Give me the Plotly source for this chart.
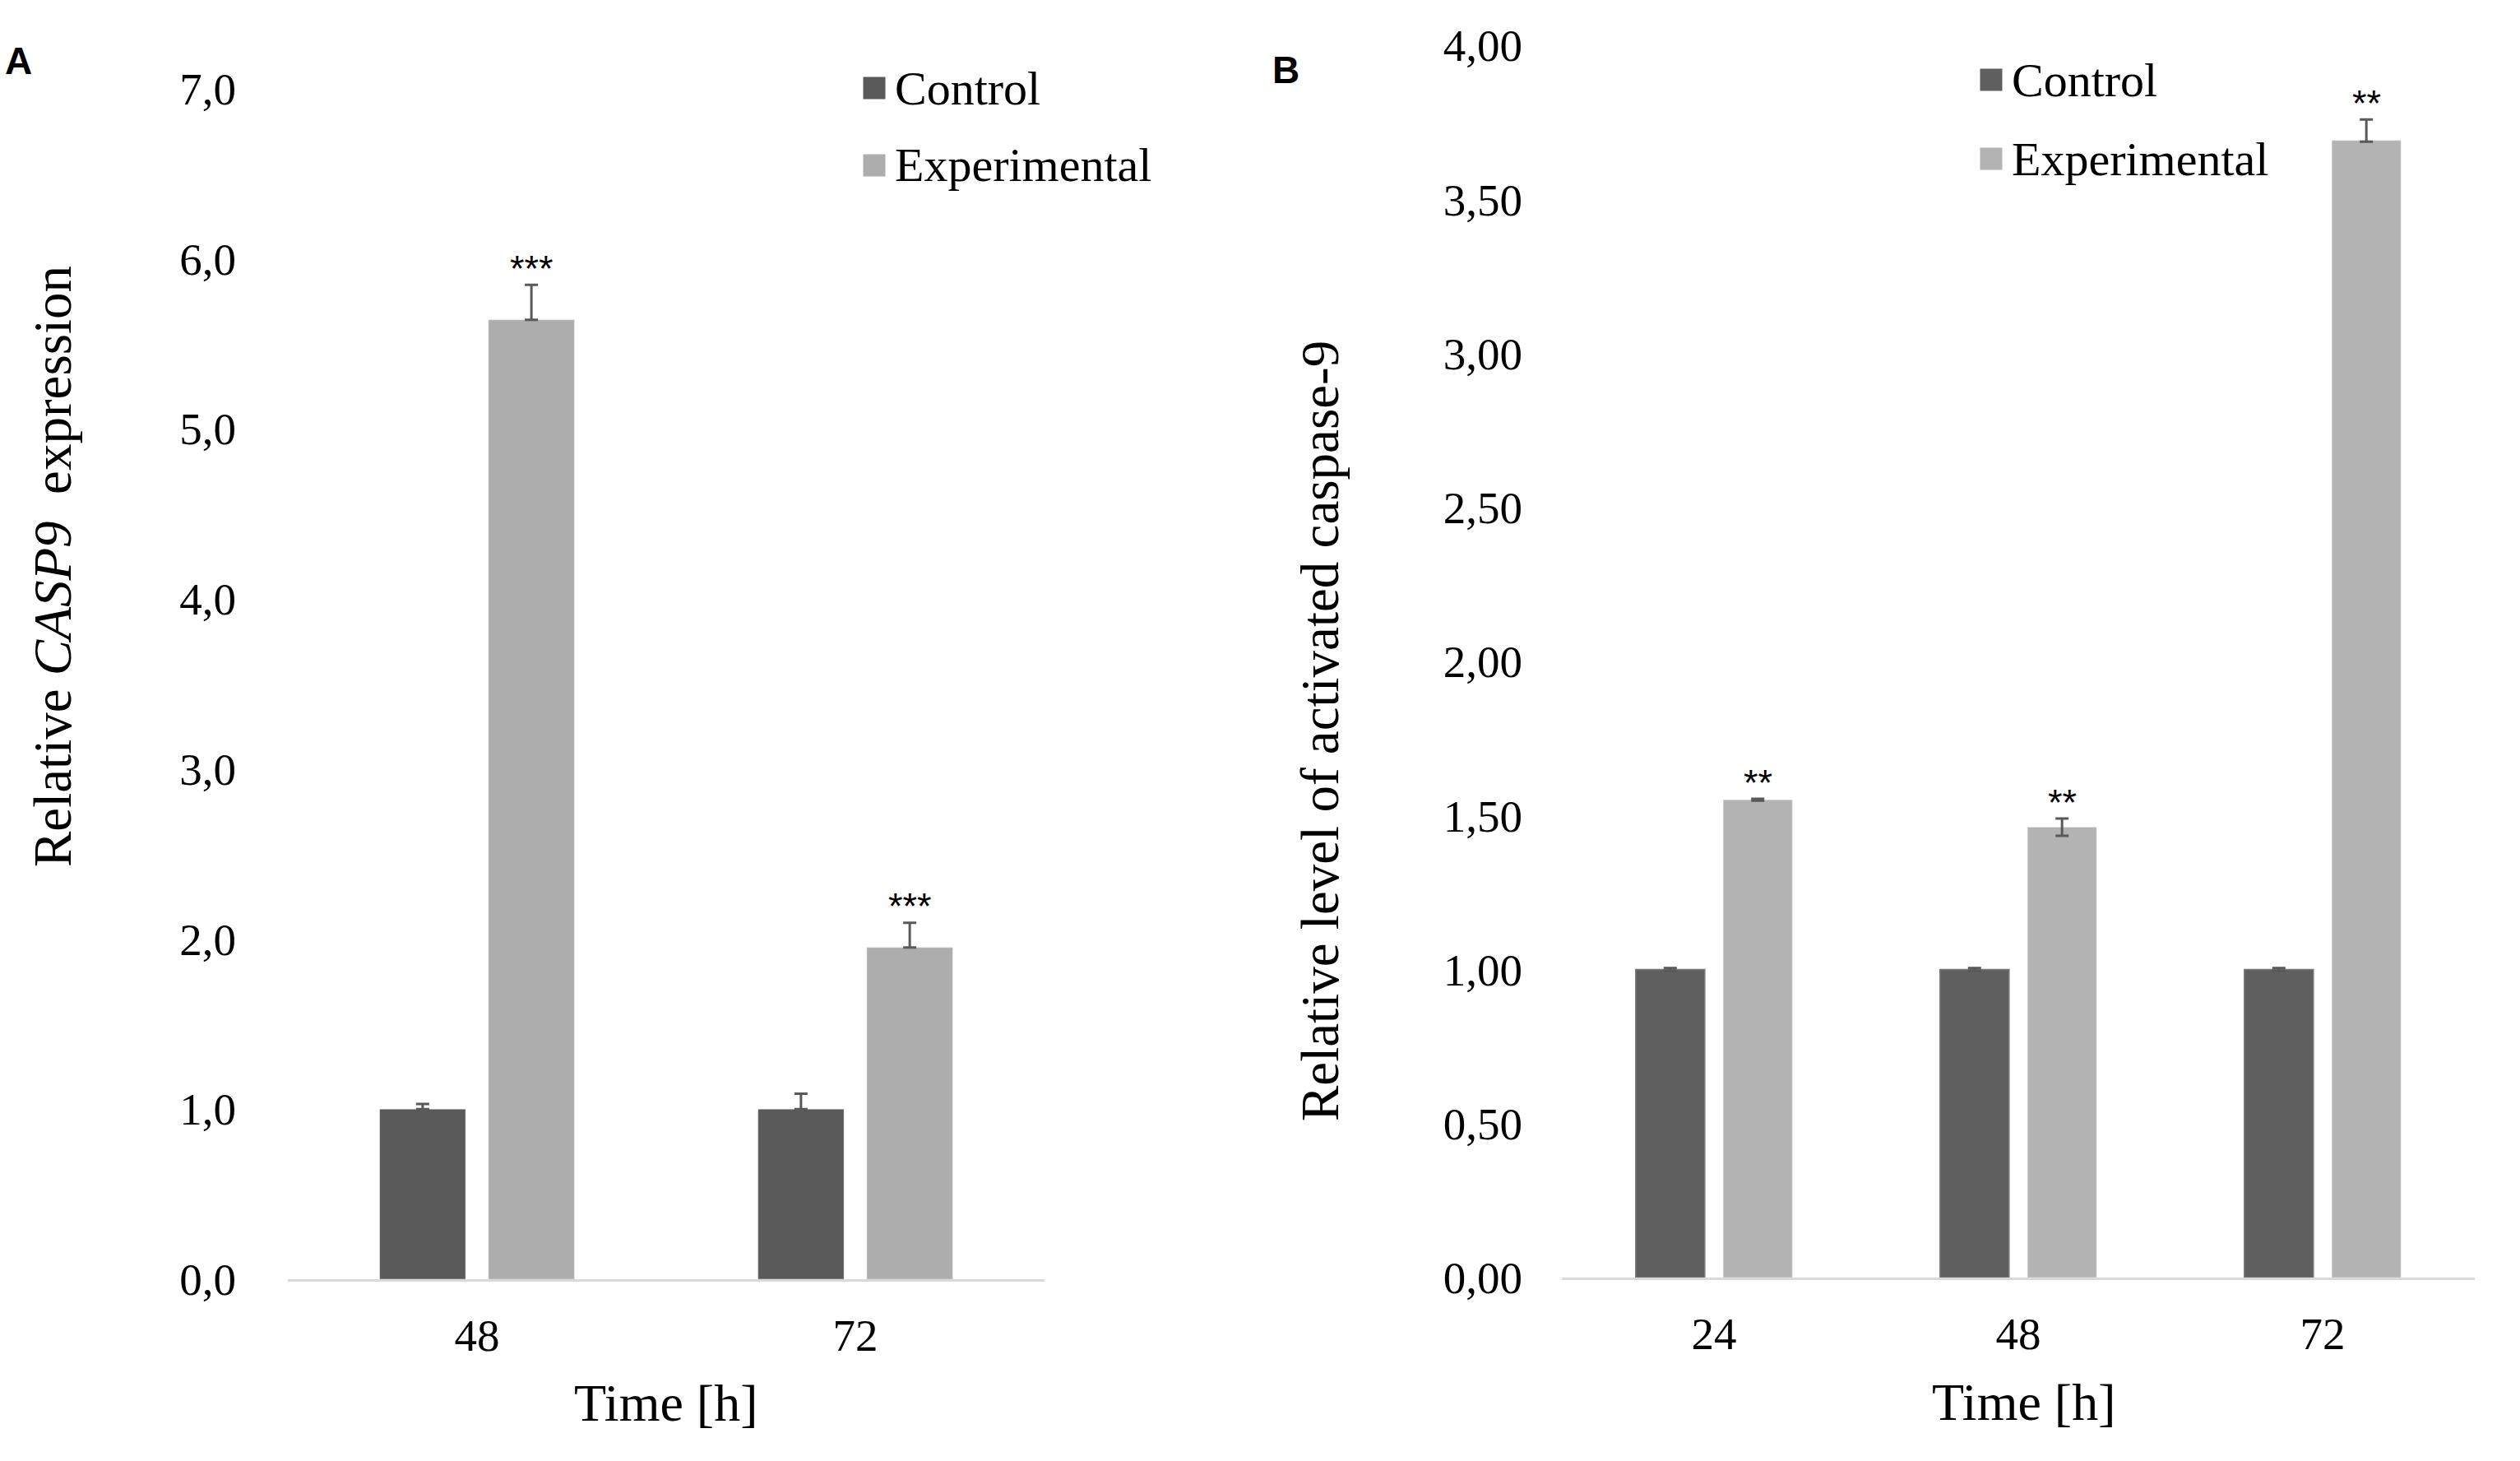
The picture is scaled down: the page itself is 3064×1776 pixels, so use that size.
import plotly.graph_objects as go

# ---------------- data: panel A ----------------
time_a = ["48", "72"]
control_a = [1.00, 1.00]
control_a_err = [0.03, 0.09]
exp_a = [5.64, 1.95]
exp_a_err = [0.205, 0.145]
stars_a = ["***", "***"]

# ---------------- data: panel B ----------------
time_b = ["24", "48", "72"]
control_b = [1.00, 1.00, 1.00]
control_b_err = [0.005, 0.005, 0.005]
exp_b = [1.551, 1.462, 3.691]
exp_b_err_plus = [0.003, 0.028, 0.068]
exp_b_err_minus = [0.003, 0.028, 0.004]
stars_b = ["**", "**", "**"]

series_names = ["Control", "Experimental"]

W, H = 3064, 1776
SERIF = "Liberation Serif"
SANS = "Liberation Sans"
ERR_COLOR = "#595959"
COLORS_A = ["#595959", "#adadad"]
COLORS_B = ["#5f5f5f", "#b3b3b3"]

fig = go.Figure()

# Panel A
fig.add_trace(go.Bar(
    x=time_a, y=control_a, name=series_names[0], marker_color=COLORS_A[0],
    error_y=dict(type="data", symmetric=False, array=control_a_err,
                 arrayminus=[0] * len(control_a_err),
                 color=ERR_COLOR, thickness=3, width=8),
    xaxis="x", yaxis="y", showlegend=False))
fig.add_trace(go.Bar(
    x=time_a, y=exp_a, name=series_names[1], marker_color=COLORS_A[1],
    error_y=dict(type="data", symmetric=False, array=exp_a_err,
                 arrayminus=[0] * len(exp_a_err),
                 color=ERR_COLOR, thickness=3, width=8),
    xaxis="x", yaxis="y", showlegend=False))

# Panel B
fig.add_trace(go.Bar(
    x=time_b, y=control_b, name=series_names[0], marker_color=COLORS_B[0],
    marker_line=dict(color="#7a7a7a", width=1.5),
    error_y=dict(type="data", array=control_b_err,
                 color=ERR_COLOR, thickness=3, width=8),
    xaxis="x2", yaxis="y2", showlegend=False))
fig.add_trace(go.Bar(
    x=time_b, y=exp_b, name=series_names[1], marker_color=COLORS_B[1],
    error_y=dict(type="data", symmetric=False, array=exp_b_err_plus,
                 arrayminus=exp_b_err_minus,
                 color=ERR_COLOR, thickness=3, width=8),
    xaxis="x2", yaxis="y2", showlegend=False))

BARGAP = 0.425
BARGROUPGAP = 0.21
exp_offset = (1 - BARGAP) / 4  # centre of the second bar in the group

star_font = dict(family=SANS, size=45, color="black")
annotations = []
for i, s in enumerate(stars_a):
    annotations.append(dict(
        x=i + exp_offset, y=exp_a[i] + exp_a_err[i], xref="x", yref="y",
        text=s, showarrow=False, yanchor="middle", yshift=20, font=star_font))
for i, s in enumerate(stars_b):
    annotations.append(dict(
        x=i + exp_offset, y=exp_b[i] + exp_b_err_plus[i], xref="x2", yref="y2",
        text=s, showarrow=False, yanchor="middle", yshift=20, font=star_font))


def px_x(p):
    return p / W


def px_y(p):
    return 1 - p / H


ytitle_font = dict(family=SERIF, size=65, color="black")
xtitle_font = dict(family=SERIF, size=64, color="black")
annotations += [
    dict(x=px_x(64), y=px_y(689), xref="paper", yref="paper",
         text="Relative <i>CASP9</i>\u00a0 expression", textangle=-90,
         showarrow=False, xanchor="center", yanchor="middle", font=ytitle_font),
    dict(x=px_x(1605), y=px_y(889), xref="paper", yref="paper",
         text="Relative level of activated caspase-9", textangle=-90,
         showarrow=False, xanchor="center", yanchor="middle", font=ytitle_font),
    dict(x=px_x(809), y=px_y(1705), xref="paper", yref="paper",
         text="Time [h]", showarrow=False, xanchor="center", yanchor="middle",
         font=xtitle_font),
    dict(x=px_x(2460), y=px_y(1704), xref="paper", yref="paper",
         text="Time [h]", showarrow=False, xanchor="center", yanchor="middle",
         font=xtitle_font),
    dict(x=px_x(22), y=px_y(74), xref="paper", yref="paper",
         text="<b>A</b>", showarrow=False, xanchor="center", yanchor="middle",
         font=dict(family=SANS, size=46, color="black")),
    dict(x=px_x(1563), y=px_y(85), xref="paper", yref="paper",
         text="<b>B</b>", showarrow=False, xanchor="center", yanchor="middle",
         font=dict(family=SANS, size=46, color="black")),
]

# Legends (square swatch + label), one per panel
shapes = []
legend_font = dict(family=SERIF, size=58, color="black")
SQ = 27
for (sx, rows, colors) in [(1063, [107, 201], COLORS_A), (2421, [97, 193], COLORS_B)]:
    for name, cy, col in zip(series_names, rows, colors):
        shapes.append(dict(type="rect", xref="paper", yref="paper",
                           x0=px_x(sx - SQ / 2), x1=px_x(sx + SQ / 2),
                           y0=px_y(cy + SQ / 2), y1=px_y(cy - SQ / 2),
                           fillcolor=col, line=dict(width=0)))
        annotations.append(dict(x=px_x(sx + 23), y=px_y(cy), xref="paper", yref="paper",
                                text=name, showarrow=False, xanchor="left",
                                yanchor="middle", font=legend_font))

tick_font = dict(family=SERIF, size=55, color="black")
axis_common_x = dict(type="category", showline=True, linecolor="#d9d9d9",
                     linewidth=3, showgrid=False, zeroline=False, ticks="",
                     tickfont=tick_font, ticklabelstandoff=18, fixedrange=True,
                     automargin=False)
axis_common_y = dict(showline=False, showgrid=False, zeroline=False, ticks="",
                     tickfont=tick_font, fixedrange=True, automargin=False)

fig.update_layout(
    width=W, height=H, autosize=False,
    margin=dict(l=0, r=0, t=0, b=0, pad=0, autoexpand=False),
    paper_bgcolor="white", plot_bgcolor="white",
    separators=", ",
    barmode="group", bargap=BARGAP, bargroupgap=BARGROUPGAP,
    xaxis=dict(domain=[px_x(350), px_x(1270)], anchor="y", **axis_common_x),
    yaxis=dict(domain=[px_y(1555), px_y(107.5)], anchor="x", range=[0, 7],
               dtick=1, tickformat=".1f", ticklabelstandoff=62, **axis_common_y),
    xaxis2=dict(domain=[px_x(1899), px_x(3009)], anchor="y2", **axis_common_x),
    yaxis2=dict(domain=[px_y(1553), px_y(55)], anchor="x2", range=[0, 4],
                dtick=0.5, tickformat=".2f", ticklabelstandoff=47, **axis_common_y),
    annotations=annotations,
    shapes=shapes,
    showlegend=False,
)

fig.write_html("out.html")
